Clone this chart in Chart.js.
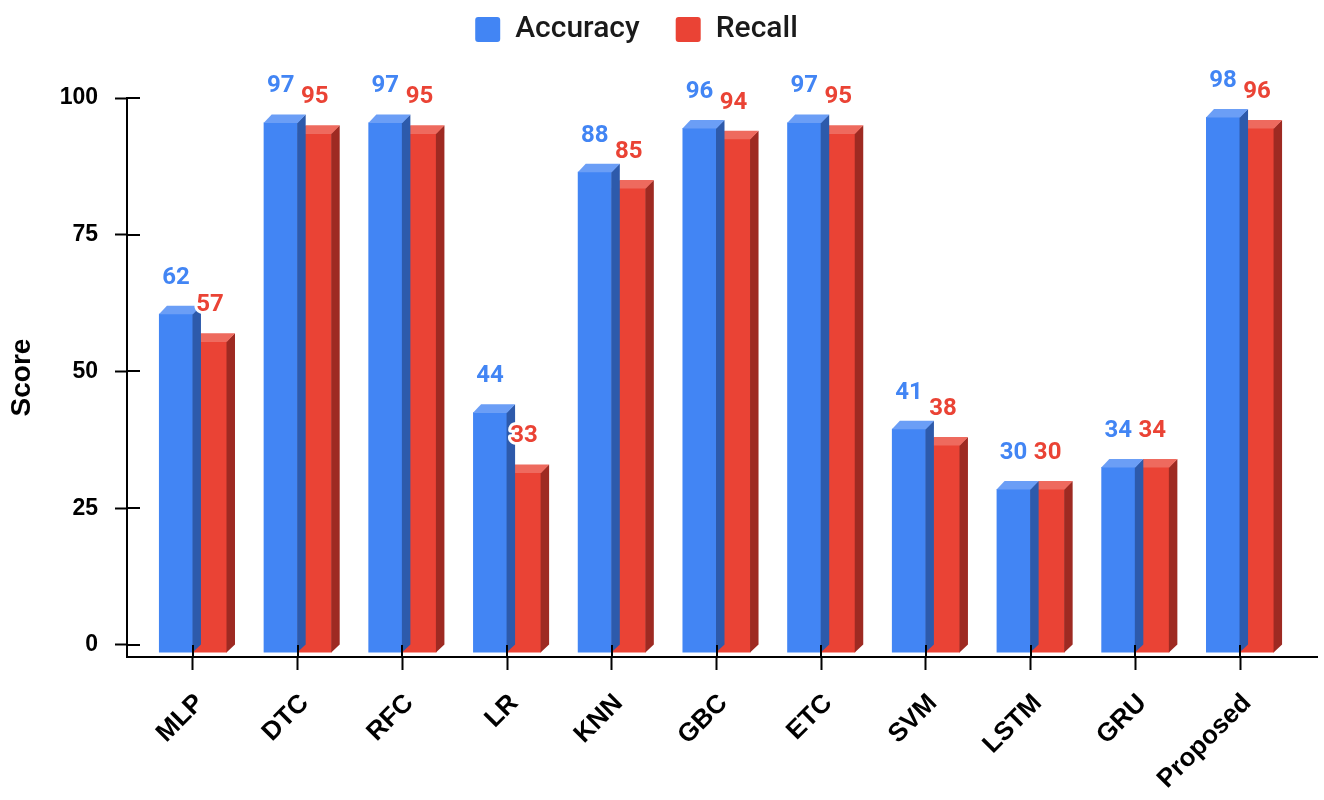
<!DOCTYPE html>
<html>
<head>
<meta charset="utf-8">
<title>Accuracy and Recall by Model</title>
<script src="https://cdn.jsdelivr.net/npm/chart.js@4.4.1/dist/chart.umd.min.js"></script>
<style>
  html, body { margin: 0; padding: 0; background: #ffffff; }
  #wrap { width: 1324px; height: 800px; }
</style>
</head>
<body>
<div id="wrap"><canvas id="chart" width="1324" height="800"></canvas></div>
<script>
// ---- data ----
const categories = ['MLP', 'DTC', 'RFC', 'LR', 'KNN', 'GBC', 'ETC', 'SVM', 'LSTM', 'GRU', 'Proposed'];
const accuracy = [62, 97, 97, 44, 88, 96, 97, 41, 30, 34, 98];
const recall   = [57, 95, 95, 33, 85, 94, 95, 38, 30, 34, 96];
const yTickValues = [0, 25, 50, 75, 100];

// ---- look ----
const DEPTH = 8;                 // extrusion of the pseudo-3D bars (px)
const AXIS_FONT = "'Liberation Sans', Arial, sans-serif";
const LABEL_FONT = "Roboto, 'Liberation Sans', Arial, sans-serif";
const EDGE_START = 0.13;         // extra room before the first category (in categories)
const EDGE_END = 0.235;          // extra room after the last category

// Category axis with a little extra room at either end
class PaddedCategoryScale extends Chart.CategoryScale {
  configure() {
    super.configure();
    const count = this.max - this.min + 1;
    this._startValue = this.min - 0.5 - EDGE_START;
    this._valueRange = count + EDGE_START + EDGE_END;
  }
}
PaddedCategoryScale.id = 'paddedCategory';
PaddedCategoryScale.defaults = {};
Chart.register(PaddedCategoryScale);

// Side and top faces for each bar, front faces dropped by DEPTH
const bars3d = {
  id: 'bars3d',
  beforeDatasetDraw(chart) {
    chart.ctx.save();
    chart.ctx.translate(0, DEPTH);
  },
  afterDatasetDraw(chart, args) {
    const ctx = chart.ctx;
    const ds = chart.data.datasets[args.index];
    args.meta.data.forEach(bar => {
      const { x, y, base, width } = bar.getProps(['x', 'y', 'base', 'width'], true);
      const l = x - width / 2, r = x + width / 2;
      ctx.fillStyle = ds.sideColor;
      ctx.beginPath();
      ctx.moveTo(r - 0.5, y);
      ctx.lineTo(r + DEPTH, y - DEPTH);
      ctx.lineTo(r + DEPTH, base - DEPTH);
      ctx.lineTo(r - 0.5, base);
      ctx.closePath();
      ctx.fill();
      ctx.fillStyle = ds.topColor;
      ctx.beginPath();
      ctx.moveTo(l, y + 0.5);
      ctx.lineTo(l + DEPTH, y - DEPTH);
      ctx.lineTo(r + DEPTH, y - DEPTH);
      ctx.lineTo(r, y + 0.5);
      ctx.closePath();
      ctx.fill();
    });
    ctx.restore();
  }
};

// Tick marks crossing the axes, and the value labels above each bar
const axisAndLabels = {
  id: 'axisAndLabels',
  afterDatasetsDraw(chart) {
    const ctx = chart.ctx;
    const xs = chart.scales.x, ys = chart.scales.y;
    ctx.save();
    ctx.strokeStyle = '#000';
    ctx.lineWidth = 2;
    ctx.beginPath();
    xs.ticks.forEach((t, i) => {
      const px = Math.round(xs.getPixelForTick(i));
      ctx.moveTo(px, xs.top - 12);
      ctx.lineTo(px, xs.top);
    });
    ys.ticks.forEach((t, i) => {
      const py = Math.round(ys.getPixelForTick(i));
      ctx.moveTo(ys.right, py);
      ctx.lineTo(ys.right + 13, py);
    });
    ctx.stroke();

    ctx.font = `bold 24px ${LABEL_FONT}`;
    ctx.textAlign = 'center';
    ctx.textBaseline = 'alphabetic';
    ctx.lineJoin = 'round';
    chart.data.datasets.forEach((ds, di) => {
      const meta = chart.getDatasetMeta(di);
      meta.data.forEach((bar, i) => {
        const v = ds.data[i];
        const py = ys.getPixelForValue(v) - 22;
        ctx.lineWidth = 6;
        ctx.strokeStyle = '#ffffff';
        ctx.strokeText(String(v), bar.x, py);
        ctx.fillStyle = ds.backgroundColor;
        ctx.fillText(String(v), bar.x, py);
      });
    });
    ctx.restore();
  }
};

// Legend: fixed band height and nudged into place
const legendFrame = {
  id: 'legendFrame',
  beforeLayout(chart) {
    const lg = chart.legend;
    if (lg && !lg._fixedFit) {
      const fit = lg.fit.bind(lg);
      lg.fit = function () { fit(); this.height = 119.5; };
      lg._fixedFit = true;
    }
  },
  afterLayout(chart) {
    const lg = chart.legend;
    if (lg) { lg.left -= 22; lg.right -= 22; }
  }
};

new Chart(document.getElementById('chart'), {
  type: 'bar',
  data: {
    labels: categories,
    datasets: [
      { label: 'Accuracy', data: accuracy, backgroundColor: '#4285F4', borderColor: '#4285F4',
        topColor: '#6b9ef6', sideColor: '#2d5aab', borderWidth: 0, clip: false },
      { label: 'Recall', data: recall, backgroundColor: '#EA4335', borderColor: '#EA4335',
        topColor: '#ee6a5e', sideColor: '#9e2a22', borderWidth: 0, clip: false }
    ]
  },
  options: {
    responsive: false,
    devicePixelRatio: 1,
    animation: false,
    layout: { padding: { top: -21.5, right: 7, bottom: 0, left: 0 } },
    datasets: { bar: { categoryPercentage: 0.65, barPercentage: 1.0 } },
    plugins: {
      tooltip: { enabled: false },
      legend: {
        position: 'top',
        labels: {
          boxWidth: 25, boxHeight: 25, padding: 36,
          useBorderRadius: true, borderRadius: 3,
          color: '#1a1a1a',
          font: { family: LABEL_FONT, size: 30, weight: '500' }
        }
      }
    },
    scales: {
      x: {
        type: 'paddedCategory',
        offset: true,
        grid: { display: true, drawOnChartArea: false, drawTicks: true, tickLength: 13,
                tickWidth: 2, tickColor: '#000', offset: false },
        border: { display: true, color: '#000', width: 2 },
        ticks: { autoSkip: false, maxRotation: 45, minRotation: 45, padding: 18, labelOffset: 7,
                 color: '#000', font: { family: AXIS_FONT, size: 26, weight: 'bold' } },
        afterFit(s) { s.height = 143; }
      },
      y: {
        min: -2.2,
        max: 100,
        afterBuildTicks(s) { s.ticks = yTickValues.map(v => ({ value: v })); },
        grid: { display: true, drawOnChartArea: false, drawTicks: true, tickLength: 12,
                tickWidth: 2, tickColor: '#000' },
        border: { display: true, color: '#000', width: 2 },
        ticks: { padding: 17, color: '#000', font: { family: AXIS_FONT, size: 23, weight: 'bold' } },
        title: { display: true, text: 'Score', color: '#000',
                 font: { family: AXIS_FONT, size: 28, weight: 'bold' }, padding: { top: 5, bottom: 0 } },
        afterFit(s) { s.width = 127; }
      }
    }
  },
  plugins: [bars3d, axisAndLabels, legendFrame]
});
</script>
</body>
</html>
